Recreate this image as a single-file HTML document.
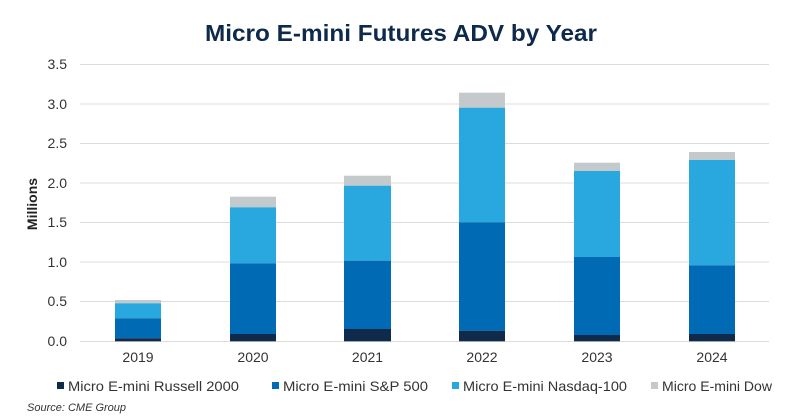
<!DOCTYPE html>
<html><head><meta charset="utf-8"><style>
html,body{margin:0;padding:0;background:#fff;}
svg{display:block;font-family:"Liberation Sans",sans-serif;}
</style></head><body>
<svg width="800" height="418" viewBox="0 0 800 418" xmlns="http://www.w3.org/2000/svg">
<text x="401" y="41" text-anchor="middle" font-size="23" font-weight="bold" fill="#0e2a4b" textLength="392" lengthAdjust="spacingAndGlyphs">Micro E-mini Futures ADV by Year</text>
<g stroke="#dcdcdc" stroke-width="1">
<line x1="80" x2="769" y1="64.5" y2="64.5"/>
<line x1="80" x2="769" y1="104" y2="104"/>
<line x1="80" x2="769" y1="143.5" y2="143.5"/>
<line x1="80" x2="769" y1="183" y2="183"/>
<line x1="80" x2="769" y1="222.5" y2="222.5"/>
<line x1="80" x2="769" y1="262" y2="262"/>
<line x1="80" x2="769" y1="301.5" y2="301.5"/>
<line x1="80" x2="769" y1="341.5" y2="341.5"/>
</g>
<g font-size="14" fill="#333" text-anchor="end">
<text x="67" y="69">3.5</text><text x="67" y="109">3.0</text><text x="67" y="148">2.5</text>
<text x="67" y="188">2.0</text><text x="67" y="227">1.5</text><text x="67" y="267">1.0</text>
<text x="67" y="306">0.5</text><text x="67" y="346">0.0</text>
</g>
<text transform="translate(37,204) rotate(-90)" text-anchor="middle" font-size="14" font-weight="bold" fill="#222">Millions</text>
<g>
<rect x="115" y="300" width="46" height="3.3" fill="#c4c9cc"/>
<rect x="115" y="303.3" width="46" height="15" fill="#29a8e0"/>
<rect x="115" y="318.3" width="46" height="20" fill="#006bb4"/>
<rect x="115" y="338.3" width="46" height="3" fill="#102a4c"/>
<rect x="230" y="196.7" width="46" height="10.6" fill="#c4c9cc"/>
<rect x="230" y="207.3" width="46" height="56" fill="#29a8e0"/>
<rect x="230" y="263.3" width="46" height="70.7" fill="#006bb4"/>
<rect x="230" y="334" width="46" height="7.3" fill="#102a4c"/>
<rect x="344" y="175.7" width="47" height="10" fill="#c4c9cc"/>
<rect x="344" y="185.7" width="47" height="75" fill="#29a8e0"/>
<rect x="344" y="260.7" width="47" height="68.3" fill="#006bb4"/>
<rect x="344" y="329" width="47" height="12.3" fill="#102a4c"/>
<rect x="459" y="92.7" width="46" height="15" fill="#c4c9cc"/>
<rect x="459" y="107.7" width="46" height="114.6" fill="#29a8e0"/>
<rect x="459" y="222.3" width="46" height="108.4" fill="#006bb4"/>
<rect x="459" y="330.7" width="46" height="10.6" fill="#102a4c"/>
<rect x="574" y="162.7" width="46" height="8.3" fill="#c4c9cc"/>
<rect x="574" y="171" width="46" height="86" fill="#29a8e0"/>
<rect x="574" y="257" width="46" height="78" fill="#006bb4"/>
<rect x="574" y="335" width="46" height="6.3" fill="#102a4c"/>
<rect x="689" y="152" width="46" height="8" fill="#c4c9cc"/>
<rect x="689" y="160" width="46" height="105.3" fill="#29a8e0"/>
<rect x="689" y="265.3" width="46" height="68.7" fill="#006bb4"/>
<rect x="689" y="334" width="46" height="7.3" fill="#102a4c"/>
</g>
<g font-size="14" fill="#333" text-anchor="middle">
<text x="138" y="362">2019</text><text x="253" y="362">2020</text><text x="367.5" y="362">2021</text>
<text x="482" y="362">2022</text><text x="597" y="362">2023</text><text x="712" y="362">2024</text>
</g>
<g font-size="14" fill="#333">
<rect x="57" y="382" width="7" height="7" fill="#102a4c"/>
<text x="68" y="391" textLength="171" lengthAdjust="spacingAndGlyphs">Micro E-mini Russell 2000</text>
<rect x="272" y="382" width="7" height="7" fill="#006bb4"/>
<text x="283" y="391" textLength="145" lengthAdjust="spacingAndGlyphs">Micro E-mini S&amp;P 500</text>
<rect x="452" y="382" width="7" height="7" fill="#29a8e0"/>
<text x="463" y="391" textLength="164" lengthAdjust="spacingAndGlyphs">Micro E-mini Nasdaq-100</text>
<rect x="651" y="382" width="7" height="7" fill="#c4c9cc"/>
<text x="662" y="391" textLength="110" lengthAdjust="spacingAndGlyphs">Micro E-mini Dow</text>
</g>
<text x="27" y="411" font-size="11" font-style="italic" fill="#333">Source: CME Group</text>
</svg>
</body></html>
